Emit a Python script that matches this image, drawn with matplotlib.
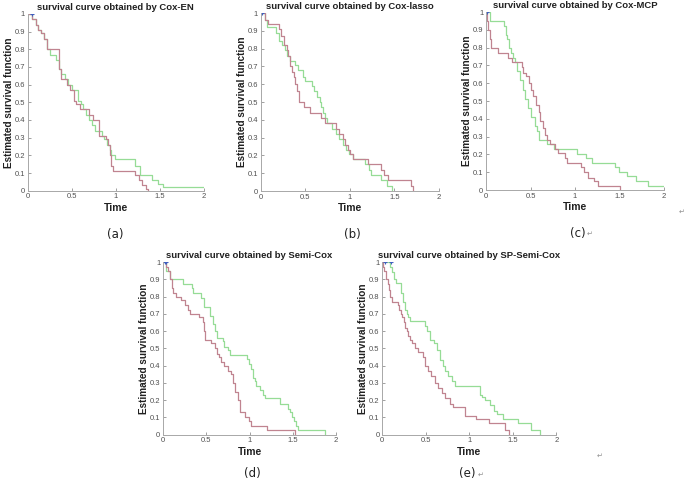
import matplotlib.pyplot as plt

plt.rcParams['font.family'] = ['Liberation Sans', 'DejaVu Sans']

# ---- data (step points: time, survival) ----
titles = ['survival curve obtained by Cox-EN', 'survival curve obtained by Cox-lasso',
          'survival curve obtained by Cox-MCP', 'survival curve obtained by Semi-Cox',
          'survival curve obtained by SP-Semi-Cox']
panel_tags = ['(a)', '(b)', '(c)', '(d)', '(e)']
x_ticks = [0, 0.5, 1, 1.5, 2]
x_ticklabels = ['0', '0.5', '1', '1.5', '2']
y_ticks = [0, 0.1, 0.2, 0.3, 0.4, 0.5, 0.6, 0.7, 0.8, 0.9, 1]
y_ticklabels = ['0', '0.1', '0.2', '0.3', '0.4', '0.5', '0.6', '0.7', '0.8', '0.9', '1']

a_red_t = [0, 0.05, 0.09, 0.12, 0.15, 0.18, 0.22, 0.36, 0.38, 0.45, 0.48, 0.52, 0.55, 0.59,
           0.70, 0.74, 0.81, 0.89, 0.91, 0.93, 0.95, 0.97, 1.22, 1.26, 1.30, 1.34, 1.37]
a_red_s = [1, 0.97, 0.94, 0.91, 0.89, 0.86, 0.80, 0.69, 0.63, 0.60, 0.57, 0.51, 0.49, 0.46,
           0.43, 0.40, 0.31, 0.29, 0.26, 0.20, 0.14, 0.11, 0.09, 0.06, 0.03, 0.01, 0]
a_grn_t = [0, 0.05, 0.09, 0.12, 0.15, 0.18, 0.22, 0.25, 0.32, 0.35, 0.38, 0.42, 0.46, 0.50,
           0.57, 0.60, 0.63, 0.66, 0.70, 0.73, 0.76, 0.84, 0.87, 0.90, 0.93, 0.95, 0.99, 1.22,
           1.27, 1.41, 1.48, 1.53, 2.00]
a_grn_s = [1, 0.97, 0.94, 0.91, 0.89, 0.86, 0.80, 0.77, 0.74, 0.69, 0.66, 0.63, 0.60, 0.57,
           0.51, 0.49, 0.46, 0.43, 0.40, 0.37, 0.34, 0.31, 0.29, 0.26, 0.23, 0.20, 0.18, 0.14,
           0.09, 0.06, 0.04, 0.02, 0.02]

b_red_t = [0, 0.05, 0.08, 0.20, 0.23, 0.26, 0.29, 0.31, 0.33, 0.35, 0.37, 0.39, 0.41, 0.43,
           0.49, 0.55, 0.68, 0.72, 0.84, 0.88, 0.92, 0.95, 0.98, 1.00, 1.04, 1.20, 1.35, 1.38,
           1.43, 1.69, 1.71]
b_red_s = [1, 0.96, 0.94, 0.91, 0.87, 0.82, 0.79, 0.76, 0.70, 0.67, 0.64, 0.60, 0.56, 0.50,
           0.47, 0.44, 0.41, 0.38, 0.35, 0.32, 0.29, 0.26, 0.23, 0.21, 0.18, 0.15, 0.12, 0.09,
           0.06, 0.03, 0]
b_grn_t = [0, 0.05, 0.07, 0.17, 0.20, 0.24, 0.27, 0.29, 0.33, 0.38, 0.42, 0.47, 0.50, 0.57,
           0.60, 0.63, 0.66, 0.68, 0.70, 0.72, 0.74, 0.80, 0.84, 0.88, 0.92, 0.96, 0.99, 1.04,
           1.17, 1.21, 1.24, 1.35, 1.42, 1.47]
b_grn_s = [1, 0.96, 0.92, 0.89, 0.84, 0.82, 0.79, 0.76, 0.73, 0.71, 0.68, 0.64, 0.62, 0.59,
           0.56, 0.53, 0.50, 0.47, 0.44, 0.41, 0.38, 0.35, 0.32, 0.29, 0.26, 0.23, 0.21, 0.18,
           0.15, 0.12, 0.09, 0.06, 0.03, 0]

c_red_t = [0, 0.01, 0.02, 0.04, 0.06, 0.14, 0.25, 0.29, 0.40, 0.42, 0.45, 0.48, 0.50, 0.53,
           0.56, 0.59, 0.61, 0.64, 0.66, 0.68, 0.72, 0.77, 0.81, 0.89, 0.91, 1.07, 1.10, 1.15,
           1.21, 1.26, 1.50]
c_red_s = [1, 0.95, 0.90, 0.85, 0.80, 0.77, 0.74, 0.72, 0.69, 0.66, 0.64, 0.60, 0.56, 0.53,
           0.48, 0.44, 0.39, 0.35, 0.31, 0.28, 0.26, 0.23, 0.21, 0.18, 0.15, 0.13, 0.10, 0.07,
           0.05, 0.02, 0]
c_grn_t = [0, 0.04, 0.20, 0.22, 0.24, 0.26, 0.28, 0.30, 0.33, 0.35, 0.38, 0.41, 0.44, 0.47,
           0.51, 0.55, 0.57, 0.60, 0.68, 0.76, 1.02, 1.12, 1.19, 1.45, 1.49, 1.58, 1.69, 1.82,
           2.00]
c_grn_s = [1, 0.95, 0.92, 0.87, 0.85, 0.80, 0.77, 0.74, 0.72, 0.67, 0.62, 0.56, 0.51, 0.46,
           0.41, 0.36, 0.33, 0.28, 0.26, 0.23, 0.20, 0.18, 0.15, 0.13, 0.10, 0.08, 0.05, 0.02,
           0.02]

d_red_t = [0, 0.04, 0.06, 0.08, 0.10, 0.12, 0.15, 0.21, 0.25, 0.29, 0.31, 0.41, 0.46, 0.47,
           0.48, 0.56, 0.60, 0.62, 0.65, 0.67, 0.71, 0.75, 0.79, 0.81, 0.83, 0.87, 0.89, 0.95,
           0.99, 1.02, 1.20, 1.53]
d_red_s = [1, 0.97, 0.95, 0.90, 0.85, 0.82, 0.80, 0.78, 0.75, 0.72, 0.70, 0.68, 0.65, 0.60,
           0.55, 0.53, 0.50, 0.47, 0.45, 0.42, 0.40, 0.37, 0.35, 0.30, 0.25, 0.20, 0.13, 0.10,
           0.08, 0.05, 0.025, 0]
d_grn_t = [0, 0.04, 0.08, 0.23, 0.33, 0.35, 0.44, 0.47, 0.54, 0.58, 0.60, 0.62, 0.69, 0.71,
           0.75, 0.77, 0.97, 0.99, 1.02, 1.04, 1.06, 1.08, 1.12, 1.16, 1.18, 1.35, 1.45, 1.47,
           1.49, 1.51, 1.54, 1.56, 1.87]
d_grn_s = [1, 0.95, 0.90, 0.87, 0.85, 0.82, 0.79, 0.74, 0.69, 0.64, 0.60, 0.56, 0.54, 0.51,
           0.49, 0.46, 0.44, 0.41, 0.38, 0.33, 0.31, 0.28, 0.26, 0.23, 0.21, 0.18, 0.15, 0.13,
           0.10, 0.08, 0.05, 0.025, 0]

e_red_t = [0, 0.01, 0.02, 0.04, 0.06, 0.08, 0.09, 0.11, 0.18, 0.19, 0.21, 0.23, 0.25, 0.26,
           0.28, 0.30, 0.32, 0.34, 0.37, 0.41, 0.47, 0.49, 0.52, 0.56, 0.60, 0.64, 0.68, 0.72,
           0.78, 0.81, 0.95, 1.08, 1.23, 1.41, 1.45]
e_red_s = [1, 0.97, 0.95, 0.90, 0.87, 0.84, 0.80, 0.77, 0.75, 0.72, 0.70, 0.68, 0.65, 0.62,
           0.60, 0.57, 0.55, 0.53, 0.50, 0.48, 0.45, 0.40, 0.37, 0.34, 0.30, 0.27, 0.24, 0.21,
           0.18, 0.16, 0.11, 0.09, 0.065, 0.03, 0]
e_grn_t = [0, 0.09, 0.11, 0.13, 0.16, 0.22, 0.24, 0.26, 0.28, 0.30, 0.32, 0.49, 0.51, 0.55,
           0.59, 0.63, 0.66, 0.70, 0.72, 0.76, 0.80, 0.83, 1.12, 1.14, 1.18, 1.24, 1.28, 1.32,
           1.39, 1.56, 1.71, 1.81]
e_grn_s = [1, 0.97, 0.94, 0.90, 0.88, 0.82, 0.77, 0.72, 0.70, 0.68, 0.66, 0.63, 0.60, 0.55,
           0.53, 0.49, 0.43, 0.40, 0.37, 0.34, 0.31, 0.28, 0.23, 0.22, 0.20, 0.17, 0.14, 0.12,
           0.09, 0.065, 0.03, 0]

censor_t = [[0.05], [0.02], [0.01], [0.02, 0.04], [0.03, 0.10]]

red_curves = [(a_red_t, a_red_s), (b_red_t, b_red_s), (c_red_t, c_red_s),
              (d_red_t, d_red_s), (e_red_t, e_red_s)]
green_curves = [(a_grn_t, a_grn_s), (b_grn_t, b_grn_s), (c_grn_t, c_grn_s),
                (d_grn_t, d_grn_s), (e_grn_t, e_grn_s)]

# axes rectangles (figure fractions) measured off the 685x482 picture
rects = [[0.0404, 0.6044, 0.2574, 0.3666],
         [0.3806, 0.6037, 0.2603, 0.3693],
         [0.7095, 0.6058, 0.2599, 0.3693],
         [0.2380, 0.0981, 0.2526, 0.3583],
         [0.5581, 0.0981, 0.2543, 0.3583]]
tag_pos = [(115, 234), (352, 234), (578, 233), (252, 473), (467, 473)]

RED = '#c08490'
GREEN = '#96dc96'
GREY = '#505050'

fig = plt.figure(figsize=(6.85, 4.82), dpi=100)
fig.patch.set_facecolor('white')

for i in range(5):
    ax = fig.add_axes(rects[i])
    gt, gs = green_curves[i]
    rt, rs = red_curves[i]
    ax.step(gt, gs, where='post', color=GREEN, lw=0.9)
    ax.step(rt, rs, where='post', color=RED, lw=0.9)
    ax.plot(censor_t[i], [1] * len(censor_t[i]), '+', color='#4060c0', ms=3, mew=0.8)
    ax.set_xlim(0, 2)
    ax.set_ylim(0, 1)
    ax.set_xticks(x_ticks)
    ax.set_xticklabels(x_ticklabels)
    ax.set_yticks(y_ticks)
    ax.set_yticklabels(y_ticklabels)
    ax.tick_params(direction='in', length=2, width=0.6, colors='#909090',
                   labelcolor=GREY, labelsize=5.5, pad=2)
    for side in ['top', 'right']:
        ax.spines[side].set_visible(False)
    for side in ['left', 'bottom']:
        ax.spines[side].set_color('#a8a8a8')
        ax.spines[side].set_linewidth(0.7)
    ax.set_title(titles[i], fontsize=6.8, fontweight='bold', pad=3, color='#202020')
    ax.set_xlabel('Time', fontsize=7.5, fontweight='bold', labelpad=1.5, color='#202020')
    ax.set_ylabel('Estimated survival function', fontsize=7.2, fontweight='bold',
                  labelpad=0.5, color='#202020')
    px, py = tag_pos[i]
    fig.text(px / 685, 1 - py / 482, panel_tags[i], fontsize=8.5, ha='center', va='center',
             color='#202020', family=['DejaVu Sans'])

# word-processor paragraph marks seen in the scan
for px, py in [(590, 234), (481, 475), (682, 212), (600, 456)]:
    fig.text(px / 685, 1 - py / 482, '\u21b5', fontsize=5, ha='center', va='center',
             color='#909090', family=['DejaVu Sans'])

fig.savefig('out.png', dpi=100, facecolor='white')
